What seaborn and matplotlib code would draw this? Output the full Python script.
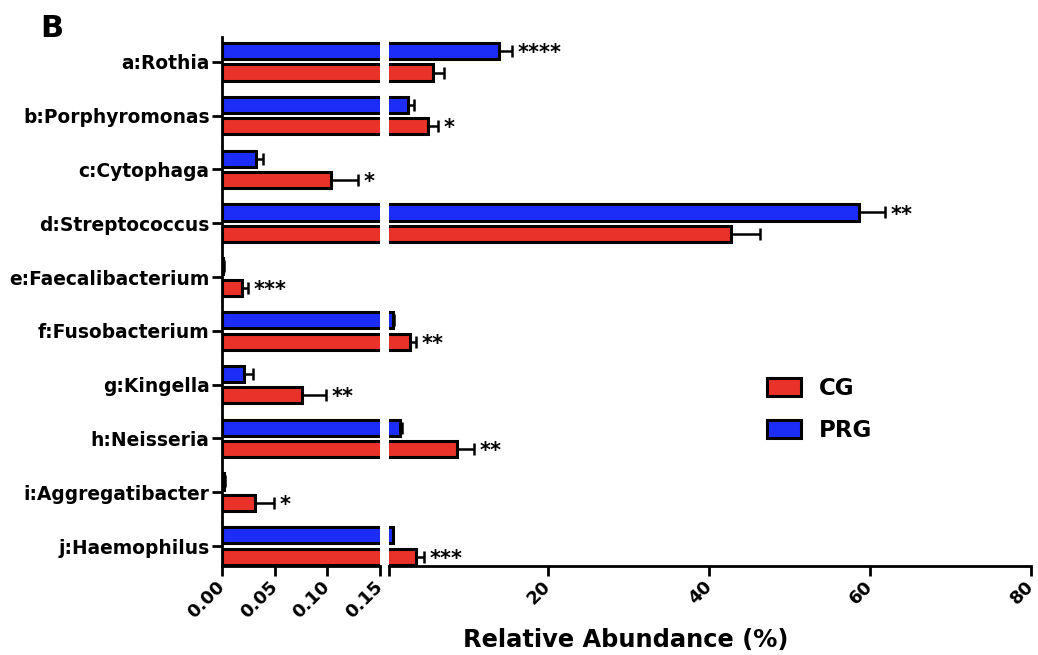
import pandas as pd
import matplotlib
matplotlib.use('Agg')
import matplotlib.pyplot as plt
import seaborn as sns
from matplotlib.patches import Patch

genera = ['a:Rothia', 'b:Porphyromonas', 'c:Cytophaga', 'd:Streptococcus', 'e:Faecalibacterium',
          'f:Fusobacterium', 'g:Kingella', 'h:Neisseria', 'i:Aggregatibacter', 'j:Haemophilus']
prg_mean = [14.0, 2.6, 0.032, 58.6, 0.001, 0.75, 0.021, 1.66, 0.002, 0.75]
prg_err = [1.6, 0.85, 0.007, 3.3, 0.0005, 0.15, 0.008, 0.25, 0.0005, 0.1]
cg_mean = [5.8, 5.1, 0.103, 42.7, 0.019, 2.9, 0.076, 8.7, 0.031, 3.65]
cg_err = [1.3, 1.25, 0.026, 3.7, 0.006, 0.75, 0.023, 2.1, 0.018, 0.95]
prg_sig = ['****', '', '', '**', '', '', '', '', '', '']
cg_sig = ['', '*', '*', '', '***', '**', '**', '**', '*', '***']

left_ticks = [0, 0.05, 0.10, 0.15]
left_labels = ['0.00', '0.05', '0.10', '0.15']
right_ticks = [20, 40, 60, 80]

sns.set_style('ticks')
plt.rcParams['font.family'] = ['DejaVu Sans']
plt.rcParams['font.weight'] = 'bold'
for k in ['text.color', 'axes.labelcolor', 'xtick.color', 'ytick.color', 'axes.edgecolor']:
    plt.rcParams[k] = 'black'

df = pd.DataFrame({
    'Genus': genera * 2,
    'Group': ['PRG'] * len(genera) + ['CG'] * len(genera),
    'Abundance': prg_mean + cg_mean,
})
means = {'PRG': prg_mean, 'CG': cg_mean}
errs = {'PRG': prg_err, 'CG': cg_err}
sigs = {'PRG': prg_sig, 'CG': cg_sig}
palette = {'CG': '#E8322A', 'PRG': '#1C2DF8'}

BREAK = 0.15
RIGHT_START = 0.3

fig = plt.figure(figsize=(10.38, 6.55), dpi=100)
ax1 = fig.add_axes([0.2139, 0.1359, 0.1522, 0.8076])
ax2 = fig.add_axes([0.3748, 0.1359, 0.6185, 0.8076])

for ax in (ax1, ax2):
    sns.barplot(data=df, x='Abundance', y='Genus', hue='Group', hue_order=['PRG', 'CG'],
                order=genera, palette=palette, saturation=1, orient='h', errorbar=None,
                width=0.8, gap=0.25, edgecolor='black', linewidth=2.2, legend=False, ax=ax)
    ax.set_xlabel('')
    ax.set_ylabel('')

ax1.set_xlim(0, BREAK)
ax2.set_xlim(RIGHT_START, 80)

# small bars would leak their edge into the right segment
for p in ax2.patches:
    if p.get_width() < RIGHT_START:
        p.set_visible(False)

# error bars (one-sided) and significance stars
for cont, grp in zip(ax1.containers, ['PRG', 'CG']):
    for bar in cont:
        yc = bar.get_y() + bar.get_height() / 2
        i = int(round(yc))
        m, e, s = means[grp][i], errs[grp][i], sigs[grp][i]
        ax = ax1 if m + e <= BREAK else ax2
        ax.errorbar(m, yc, xerr=[[0], [e]], fmt='none', ecolor='black',
                    elinewidth=1.8, capsize=4.5, capthick=1.8)
        if s:
            ax.annotate(s, (m + e, yc), xytext=(4, -1.5), textcoords='offset points',
                        ha='left', va='center', fontsize=15, fontweight='bold')

for ax in (ax1, ax2):
    ax.set_ylim(9.37, -0.46)

sns.despine(ax=ax1)
sns.despine(ax=ax2, left=True)
for ax in (ax1, ax2):
    for sp in ax.spines.values():
        sp.set_linewidth(2)
    ax.tick_params(axis='x', width=2, length=7, labelsize=13, pad=6)

ax1.tick_params(axis='y', width=2, length=7, labelsize=13.4, pad=2)
ax2.tick_params(axis='y', left=False, labelleft=False)

ax1.set_xticks(left_ticks)
ax1.set_xticklabels(left_labels, rotation=45, ha='right', va='center', rotation_mode='anchor')
ax2.set_xticks([RIGHT_START] + right_ticks)
ax2.set_xticklabels([''] + [str(t) for t in right_ticks], rotation=45, ha='right', va='center',
                    rotation_mode='anchor')

handles = [Patch(facecolor=palette['CG'], edgecolor='black', linewidth=2.2, label='CG'),
           Patch(facecolor=palette['PRG'], edgecolor='black', linewidth=2.2, label='PRG')]
fig.legend(handles=handles, loc='upper left', bbox_to_anchor=(0.739, 0.424), frameon=False,
           fontsize=16.5, handlelength=1.5, handleheight=0.85, handletextpad=0.75,
           labelspacing=0.8, borderpad=0, borderaxespad=0)

fig.text(40 / 1038, 1 - 36.7 / 655, 'B', fontsize=22, fontweight='bold', ha='left', va='baseline')
fig.text(0.603, 0.0122, 'Relative Abundance (%)', fontsize=17.4, fontweight='bold',
         ha='center', va='baseline')

fig.savefig('out.png', dpi=100)
